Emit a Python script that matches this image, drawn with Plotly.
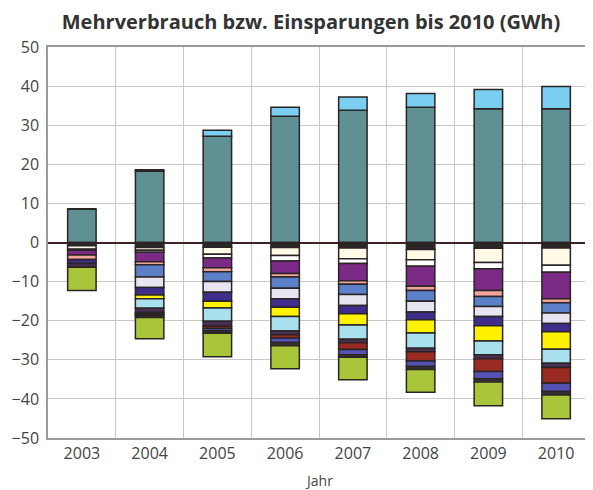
import plotly.graph_objects as go

years = ["2003", "2004", "2005", "2006", "2007", "2008", "2009", "2010"]

# positive (Mehrverbrauch)
teal = [8.5, 18.2, 27.2, 32.3, 33.8, 34.6, 34.2, 34.2]
lightblue = [0.0, 0.4, 1.5, 2.3, 3.4, 3.5, 4.9, 5.7]

# negative (Einsparungen), from zero downwards
s01_dark = [0.8, 1.3, 1.2, 1.3, 1.4, 1.8, 1.5, 1.4]
s02_cream = [0.9, 0.7, 1.8, 2.0, 2.75, 2.6, 3.6, 4.4]
s03_white = [0.3, 0.5, 0.95, 1.4, 1.25, 1.7, 1.6, 1.8]
s04_purple = [1.2, 2.4, 2.5, 3.2, 4.4, 5.1, 5.6, 6.8]
s05_salmon = [1.15, 0.8, 1.0, 0.95, 0.9, 1.05, 1.5, 1.0]
s06_blue = [0.0, 3.1, 2.5, 2.85, 2.6, 2.8, 2.6, 2.6]
s07_lavender = [0.0, 2.7, 2.75, 2.7, 2.8, 2.75, 2.5, 2.7]
s08_indigo = [1.05, 1.9, 2.3, 2.15, 2.15, 1.95, 2.4, 2.1]
s09_yellow = [0.0, 1.0, 1.75, 2.35, 2.85, 3.4, 3.9, 4.5]
s10_cyan = [0.0, 2.4, 3.4, 3.75, 3.65, 3.9, 3.5, 3.6]
s11_darkpurple = [0.9, 1.1, 1.25, 0.95, 0.9, 0.9, 1.0, 1.1]
s12_darkred = [0.0, 0.4, 0.6, 0.8, 1.7, 2.35, 3.3, 4.0]
s13_bluepurple = [0.0, 0.4, 0.6, 1.2, 1.35, 1.4, 1.85, 2.1]
s14_dark = [0.0, 0.5, 0.6, 0.8, 0.65, 0.8, 0.8, 0.9]
s15_green = [6.0, 5.4, 6.0, 5.9, 5.75, 5.8, 6.1, 6.1]

y_ticks = [-50, -40, -30, -20, -10, 0, 10, 20, 30, 40, 50]

neg_series = [
    (s01_dark, "#2e2626"),
    (s02_cream, "#fffbe6"),
    (s03_white, "#ffffff"),
    (s04_purple, "#7b2a86"),
    (s05_salmon, "#f2a59c"),
    (s06_blue, "#5b80c8"),
    (s07_lavender, "#e8e4f2"),
    (s08_indigo, "#3e2d8a"),
    (s09_yellow, "#fff200"),
    (s10_cyan, "#a8e0ee"),
    (s11_darkpurple, "#4a2f55"),
    (s12_darkred, "#9a2b22"),
    (s13_bluepurple, "#5652b4"),
    (s14_dark, "#3a3232"),
    (s15_green, "#a9c63a"),
]

fig = go.Figure()
line = dict(color="#2a2424", width=1.5)
W = 0.42
fig.add_bar(x=years, y=teal, marker=dict(color="#5f9194", line=line), width=W)
fig.add_bar(x=years, y=lightblue, marker=dict(color="#7acff0", line=line), width=W)
for vals, col in neg_series:
    fig.add_bar(x=years, y=[-v for v in vals], marker=dict(color=col, line=line), width=W)

font_col = "#444444"
fig.update_layout(
    barmode="relative",
    width=585, height=482,
    margin=dict(l=40, r=3, t=39, b=52),
    paper_bgcolor="white", plot_bgcolor="white",
    showlegend=False,
    font=dict(family="Open Sans", color=font_col, size=16),
    title=dict(text="<b>Mehrverbrauch bzw. Einsparungen bis 2010 (GWh)</b>",
               x=0.518, xref="container", xanchor="center",
               y=0.971, yref="container", yanchor="middle",
               font=dict(size=20, color="#333333")),
    annotations=[dict(text="Jahr", xref="paper", yref="paper", x=0.5, y=0,
                      yshift=-42, xanchor="center", yanchor="middle", showarrow=False,
                      font=dict(size=14, color=font_col))],
)
fig.update_xaxes(
    type="category", tickson="boundaries", showgrid=True, gridcolor="#c8c8c8", gridwidth=1,
    ticks="", showline=True, linecolor="#9a9a9a", linewidth=1.5, mirror=True,
    tickfont=dict(size=16, color=font_col), automargin=False,
)
fig.update_yaxes(
    range=[-50, 50], tickvals=y_ticks, showgrid=True, gridcolor="#c8c8c8", gridwidth=1,
    zeroline=True, zerolinecolor="#3a2424", zerolinewidth=2,
    ticks="", showline=True, linecolor="#9a9a9a", linewidth=1.5, mirror=True,
    tickfont=dict(size=16, color=font_col), ticklabelstandoff=4, automargin=False,
)
fig.write_html("out.html")
